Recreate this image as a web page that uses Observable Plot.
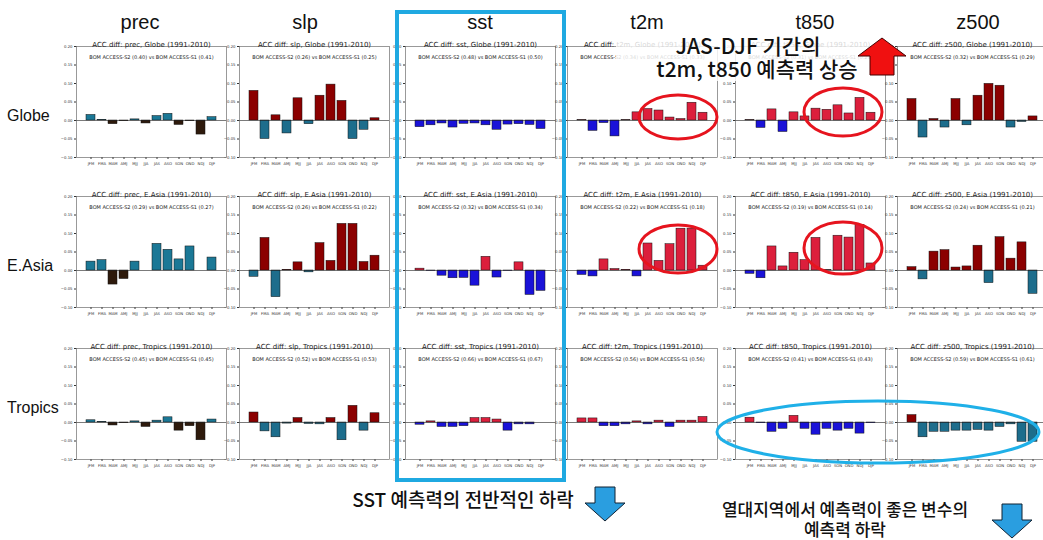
<!DOCTYPE html>
<html><head><meta charset="utf-8">
<script src="https://cdn.jsdelivr.net/npm/d3@7"></script>
<script src="https://cdn.jsdelivr.net/npm/@observablehq/plot@0.6"></script>
<style>
body{margin:0;background:#fff;}
#wrap{position:relative;width:1043px;height:540px;overflow:hidden;background:#fff;font-family:"Liberation Sans",Arial,sans-serif;}
#wrap .panel{position:absolute;}
#ov{position:absolute;left:0;top:0;}
</style></head><body>
<div id="wrap"></div>
<script>
const months = ["JFM","FMA","MAM","AMJ","MJJ","JJA","JAS","ASO","SON","OND","NDJ","DJF"];
const variables = ["prec","slp","sst","t2m","t850","z500"];
const regions = ["Globe","E.Asia","Tropics"];
const yTicks = [-0.10,-0.05,0.00,0.05,0.10,0.15,0.20];

// ACC difference (S2 - S1) per variable, per region
const precGlobe   = [0.015,0.002,-0.010,-0.002,0.003,-0.008,0.012,0.018,-0.012,-0.002,-0.038,0.009];
const slpGlobe    = [0.080,-0.050,0.014,-0.035,0.060,-0.010,0.067,0.097,0.053,-0.050,-0.025,0.006];
const sstGlobe    = [-0.018,-0.013,-0.008,-0.019,-0.009,-0.008,-0.013,-0.025,-0.011,-0.010,-0.012,-0.023];
const t2mGlobe    = [0.001,-0.028,-0.007,-0.043,0.001,0.022,0.031,0.027,0.008,0.004,0.048,0.021];
const t850Globe   = [0.001,-0.020,0.030,-0.031,0.022,0.011,0.032,0.029,0.041,0.019,0.061,0.021];
const z500Globe   = [0.058,-0.046,0.004,-0.019,0.058,-0.013,0.067,0.099,0.094,-0.019,-0.004,0.011];

const precEAsia   = [0.024,0.028,-0.038,-0.023,0.024,0.000,0.072,0.056,0.030,0.065,0.000,0.035];
const slpEAsia    = [-0.017,0.088,-0.072,0.002,0.022,-0.005,0.074,0.026,0.126,0.126,0.023,0.040];
const sstEAsia    = [0.005,-0.001,-0.014,-0.021,-0.020,-0.041,0.037,-0.019,-0.001,0.022,-0.066,-0.055];
const t2mEAsia    = [-0.012,-0.016,0.030,0.004,0.002,-0.016,0.073,0.026,0.071,0.113,0.113,0.013];
const t850EAsia   = [-0.009,-0.021,0.065,0.011,0.048,0.028,0.088,0.001,0.094,0.089,0.123,0.019];
const z500EAsia   = [0.009,-0.024,0.051,0.055,0.008,0.011,0.067,-0.034,0.090,0.032,0.076,-0.063];

const precTropics = [0.006,0.002,-0.008,-0.002,0.003,-0.012,0.005,0.014,-0.022,-0.010,-0.048,0.008];
const slpTropics  = [0.027,-0.024,-0.040,-0.003,0.012,-0.004,-0.005,0.012,-0.048,0.045,-0.022,0.025];
const sstTropics  = [-0.006,0.003,-0.012,-0.012,-0.010,0.012,0.012,0.008,-0.022,-0.005,-0.005,0.000];
const t2mTropics  = [0.011,0.011,-0.010,-0.010,-0.005,0.003,-0.005,0.005,-0.012,0.005,0.005,0.015];
const t850Tropics = [0.013,-0.002,-0.025,-0.017,0.018,-0.017,-0.033,-0.017,-0.022,-0.017,-0.030,-0.002];
const z500Tropics = [0.020,-0.040,-0.025,-0.025,-0.022,-0.022,-0.020,-0.022,-0.012,-0.005,-0.052,-0.052];

// overall ACC of S2 and S1
const accS2 = {Globe:[0.40,0.26,0.48,0.34,0.31,0.32], "E.Asia":[0.29,0.26,0.32,0.22,0.19,0.24], Tropics:[0.45,0.52,0.66,0.56,0.41,0.59]};
const accS1 = {Globe:[0.41,0.25,0.50,0.33,0.29,0.29], "E.Asia":[0.27,0.22,0.34,0.18,0.14,0.21], Tropics:[0.45,0.53,0.67,0.56,0.43,0.61]};

const series = {
  Globe:[precGlobe,slpGlobe,sstGlobe,t2mGlobe,t850Globe,z500Globe],
  "E.Asia":[precEAsia,slpEAsia,sstEAsia,t2mEAsia,t850EAsia,z500EAsia],
  Tropics:[precTropics,slpTropics,sstTropics,t2mTropics,t850Tropics,z500Tropics]
};
// positive / negative colours per variable
const palettes = {
  prec:["#1b7896","#2e1a0c"], slp:["#8b0000","#1d6d8c"], sst:["#dc1f3c","#1a12d8"],
  t2m:["#dc1f3c","#1a12d8"], t850:["#dc1f3c","#1a12d8"], z500:["#8b0000","#1d6d8c"]
};

const frameLefts = [76,239,405,567,735,897];
const frameTops = [46,196,348];
const FW = 150, FH = 111, ML = 18, MR = 2, MT = 14, MB = 14;

const wrap = document.getElementById("wrap");
regions.forEach((reg, ri) => {
  variables.forEach((v, vi) => {
    const vals = series[reg][vi];
    const data = months.map((m, i) => ({m, v: vals[i]}));
    const [pos, neg] = palettes[v];
    const chart = Plot.plot({
      width: ML + FW + MR, height: MT + FH + MB,
      marginLeft: ML, marginRight: MR, marginTop: MT, marginBottom: MB,
      style: {background: "transparent", fontSize: "3.8px", fontFamily: "'DejaVu Sans', sans-serif", overflow: "visible", color: "#333"},
      x: {domain: months, paddingInner: 0.15, paddingOuter: 0.7, label: null, tickSize: 2, tickPadding: 2.5},
      y: {domain: [-0.10, 0.20], ticks: yTicks, tickFormat: d3.format(".2f"), label: null, tickSize: 2, tickPadding: 2},
      color: {type: "identity"},
      marks: [
        Plot.barY(data, {x: "m", y: "v", fill: d => d.v >= 0 ? pos : neg, stroke: "#111", strokeWidth: 0.5}),
        Plot.ruleY([0], {stroke: "#222", strokeWidth: 0.6}),
        Plot.frame({stroke: "#555", strokeWidth: 0.6}),
        Plot.text([`ACC diff: ${v}, ${reg} (1991-2010)`], {frameAnchor: "top", dy: -4, fontSize: 7, fill: "#222"}),
        Plot.text([`BOM ACCESS-S2 (${accS2[reg][vi].toFixed(2)}) vs BOM ACCESS-S1 (${accS1[reg][vi].toFixed(2)})`], {frameAnchor: "top", dy: 9, fontSize: 5, fill: "#222"})
      ]
    });
    chart.classList.add("panel");
    chart.style.left = (frameLefts[vi] - ML) + "px";
    chart.style.top = (frameTops[ri] - MT) + "px";
    wrap.appendChild(chart);
  });
});

// annotation overlay
const ns = "http://www.w3.org/2000/svg";
const ov = document.createElementNS(ns, "svg");
ov.setAttribute("id", "ov"); ov.setAttribute("width", 1043); ov.setAttribute("height", 540);
function el(tag, attrs, text){ const e = document.createElementNS(ns, tag); for (const k in attrs) e.setAttribute(k, attrs[k]); if (text!=null) e.textContent = text; ov.appendChild(e); return e; }

const headerX = [140, 305, 480, 647, 815, 978];
variables.forEach((v,i)=> el("text",{x:headerX[i], y:29, "text-anchor":"middle", "font-size":20, "font-family":"Liberation Sans, Arial, sans-serif", fill:"#111"}, v));
const rowY = [121, 271, 413];
regions.forEach((r,i)=> el("text",{x:7, y:rowY[i], "font-size":16, "font-family":"Liberation Sans, Arial, sans-serif", fill:"#111"}, r));

// sst highlight box
el("rect",{x:397, y:12, width:167, height:468, fill:"none", stroke:"#1fa9e1", "stroke-width":4});
// red ellipses
[[678,117,39,22],[843,112,39,24],[678,249,39,24],[843,248,39,26]].forEach(([cx,cy,rx,ry])=>
  el("ellipse",{cx,cy,rx,ry,fill:"none",stroke:"#e6141e","stroke-width":3}));
// blue ellipse (tropics)
el("ellipse",{cx:878, cy:432, rx:161, ry:31, fill:"none", stroke:"#1fb0e8", "stroke-width":3});

// text box top
el("rect",{x:616, y:31, width:258, height:50, fill:"#fff", "fill-opacity":0.82});
const kfont = "'Noto Sans CJK KR', sans-serif";
el("text",{x:748, y:54, "text-anchor":"middle", "font-size":21, "font-weight":500, "font-family":kfont, fill:"#111"}, "JAS-DJF 기간의");
el("text",{x:757, y:77, "text-anchor":"middle", "font-size":21, "font-weight":500, "font-family":kfont, fill:"#111"}, "t2m, t850 예측력 상승");
// red up arrow
el("path",{d:"M858,56 L882,38 L906,56 L894,56 L894,75 L870,75 L870,56 Z", fill:"#f01010", stroke:"#400", "stroke-width":1});

el("text",{x:463, y:507, "text-anchor":"middle", "font-size":19, "font-weight":500, "font-family":kfont, fill:"#111"}, "SST 예측력의 전반적인 하락");
el("path",{d:"M595,487 L615,487 L615,503 L625,503 L605,521 L585,503 L595,503 Z", fill:"#2a9ee0", stroke:"#123", "stroke-width":1});
el("text",{x:845, y:516, "text-anchor":"middle", "font-size":17, "font-weight":500, "font-family":kfont, fill:"#111"}, "열대지역에서 예측력이 좋은 변수의");
el("text",{x:845, y:536, "text-anchor":"middle", "font-size":17, "font-weight":500, "font-family":kfont, fill:"#111"}, "예측력 하락");
el("path",{d:"M1002,504 L1022,504 L1022,520 L1032,520 L1012,538 L992,520 L1002,520 Z", fill:"#2a9ee0", stroke:"#123", "stroke-width":1});
wrap.appendChild(ov);
</script>
</body></html>
